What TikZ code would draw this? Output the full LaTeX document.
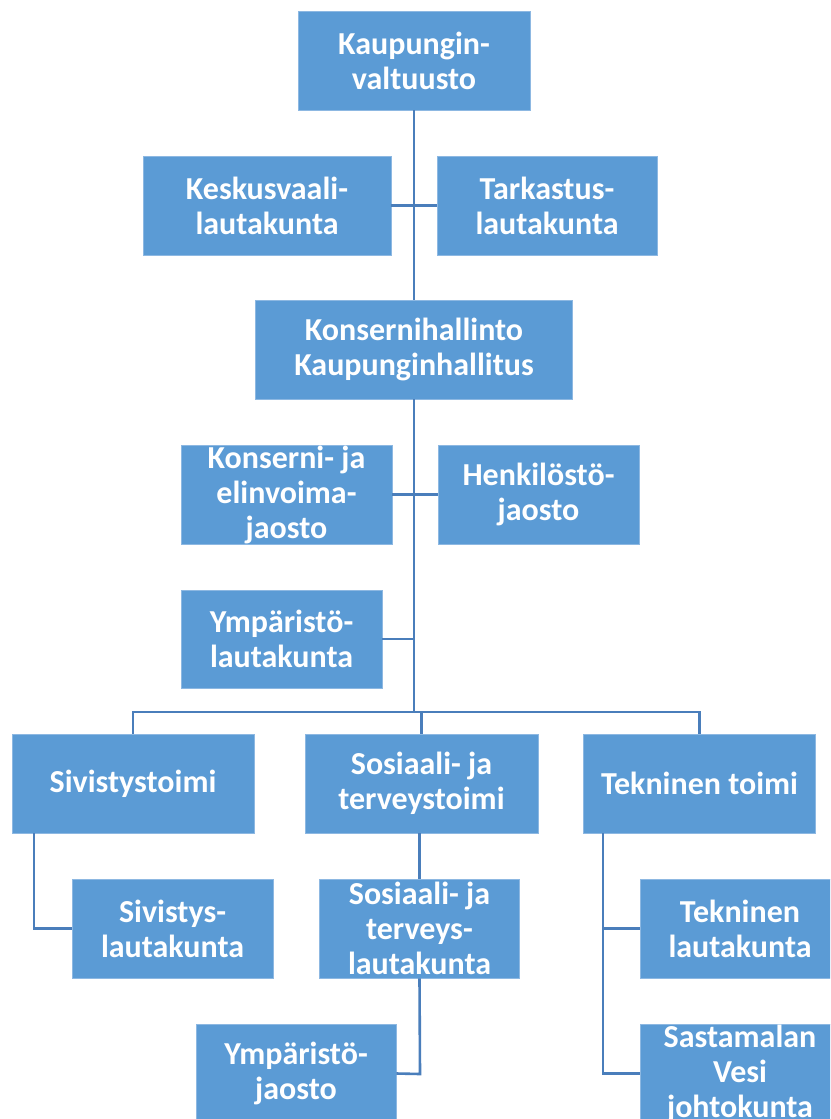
\documentclass[tikz,border=0pt]{standalone}
\usepackage{fontspec}
\setmainfont{Carlito}
\definecolor{boxblue}{HTML}{5B9BD5}
\definecolor{lineblue}{HTML}{4A7EBB}
\definecolor{edgeblue}{HTML}{8DB8E2}
\begin{document}
\begin{tikzpicture}[x=1pt,y=-1pt,
  orgbox/.style={rectangle, fill=boxblue, draw=edgeblue, line width=0.8pt, inner sep=0pt,
    minimum height=99pt, text=white, align=center,
    font=\fontsize{32}{35}\selectfont\bfseries},
  conn/.style={draw=lineblue, line width=2.6pt}]
\fill[white] (0,0) rectangle (830,1119);
\useasboundingbox (0,0) rectangle (830,1119);
\begin{scope}
\clip (0,0) rectangle (830,1119);
% level 1
\node[orgbox, minimum width=232pt] (kv) at (414,60.5) {Kaupungin-\\valtuusto};
\node[orgbox, minimum width=248pt] (kesk) at (267,205.5) {Keskusvaali-\\lautakunta};
\node[orgbox, minimum width=220pt] (tark) at (547,205.5) {Tarkastus-\\lautakunta};
\node[orgbox, minimum width=317pt] (kh) at (414,349.5) {Konsernihallinto\\Kaupunginhallitus};
\node[orgbox, minimum width=211pt] (kej) at (286.5,494.5) {Konserni- ja\\elinvoima-\\jaosto};
\node[orgbox, minimum width=201pt] (henk) at (538.5,494.5) {Henkilöstö-\\jaosto};
\node[orgbox, minimum width=201pt, minimum height=98pt] (ymp) at (281.5,639) {Ympäristö-\\lautakunta};
% level 2
\node[orgbox, minimum width=242pt] (siv) at (133,783.5) {Sivistystoimi};
\node[orgbox, minimum width=233pt] (sos) at (421.5,783.5) {Sosiaali- ja\\terveystoimi};
\node[orgbox, minimum width=232pt] (tek) at (699.5,783.5) {Tekninen toimi};
% level 3
\node[orgbox, minimum width=201pt] (sivl) at (172.5,928.5) {Sivistys-\\lautakunta};
\node[orgbox, minimum width=200pt] (sosl) at (419.5,928.5) {Sosiaali- ja\\terveys-\\lautakunta};
\node[orgbox, minimum width=200pt] (tekl) at (740,928.5) {Tekninen\\lautakunta};
\node[orgbox, minimum width=200pt] (ympj) at (296,1073.5) {Ympäristö-\\jaosto};
\node[orgbox, minimum width=200pt] (sast) at (740,1073.5) {Sastamalan\\Vesi\\johtokunta};
% connectors
\coordinate (bus) at (414,712);
\coordinate (sivturn) at (34,928.5);
\coordinate (sosturn) at (420,1074);
\coordinate (tektop) at (603,833);
\draw[conn] (kv.south) -- (kh.north);
\draw[conn] (kesk.east) -- (tark.west);
\draw[conn] (kh.south) -- (bus);
\draw[conn] (kej.east) -- (henk.west);
\draw[conn] (ymp.east) -- (ymp.east -| bus);
\draw[conn] (siv.north) -- (siv.north |- bus) -- (tek.north |- bus) -- (tek.north);
\draw[conn] (sos.north) -- (sos.north |- bus);
\draw[conn] (sivturn |- siv.south) -- (sivturn) -- (sivl.west);
\draw[conn] (sos.south -| sosl.north) -- (sosl.north);
\draw[conn] (sosl.south) -- (sosturn) -- (ympj.east);
\draw[conn] (tektop) -- (tektop |- sast.west) -- (sast.west);
\draw[conn] (tektop |- tekl.west) -- (tekl.west);
\end{scope}
\end{tikzpicture}
\end{document}
